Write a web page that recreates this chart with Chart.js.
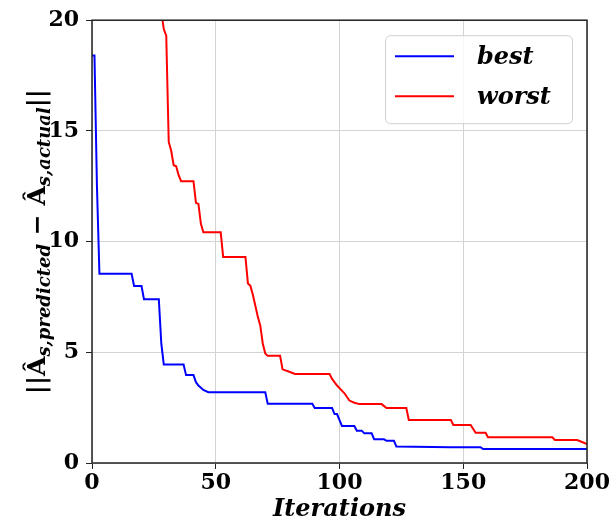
<!DOCTYPE html>
<html>
<head>
<meta charset="utf-8">
<script src="https://cdn.jsdelivr.net/npm/chart.js@4"></script>
<style>
  html, body { margin: 0; padding: 0; background: #fff; }
  #wrap { width: 611px; height: 527px; }
</style>
</head>
<body>
<div id="wrap"><canvas id="errChart" width="611" height="527"></canvas></div>
<script>
// breakpoints (iteration, error)
const bestIter = [0, 1, 2, 3, 16, 17, 20, 21, 27, 28, 29, 37, 38, 41, 42, 43, 45, 47, 70, 71, 89, 90, 97, 98, 99, 101, 106, 107, 109, 110, 113, 114, 118, 119, 122, 123, 145, 157, 158, 200];
const bestErr = [18.4, 18.4, 12.5, 8.55, 8.55, 8.0, 8.0, 7.4, 7.4, 5.4, 4.45, 4.45, 3.97, 3.97, 3.65, 3.5, 3.3, 3.2, 3.2, 2.68, 2.68, 2.48, 2.48, 2.21, 2.21, 1.67, 1.67, 1.46, 1.46, 1.34, 1.34, 1.07, 1.07, 1.0, 1.0, 0.74, 0.71, 0.71, 0.63, 0.63];

const worstIter = [0, 26, 27, 28, 29, 30, 31, 32, 33, 34, 35, 36, 41, 42, 43, 44, 45, 52, 53, 62, 63, 64, 65, 66, 67, 68, 69, 70, 71, 76, 77, 80, 82, 96, 97, 99, 100, 102, 104, 106, 108, 117, 119, 127, 128, 145, 146, 153, 155, 159, 160, 186, 187, 196, 198, 200];
const worstErr = [40, 30, 25, 20.4, 19.6, 19.3, 14.5, 14.1, 13.45, 13.4, 13.0, 12.73, 12.73, 11.75, 11.7, 10.8, 10.42, 10.42, 9.31, 9.31, 8.11, 8.0, 7.6, 7.1, 6.6, 6.2, 5.4, 4.95, 4.84, 4.84, 4.23, 4.11, 4.02, 4.02, 3.8, 3.5, 3.38, 3.15, 2.82, 2.72, 2.66, 2.66, 2.48, 2.48, 1.94, 1.94, 1.72, 1.72, 1.37, 1.37, 1.16, 1.16, 1.04, 1.04, 0.95, 0.86];

const xTicks = [0, 50, 100, 150, 200];
const yTicks = [0, 5, 10, 15, 20];

const toPoints = (xs, ys) => xs.map((x, i) => ({ x: x, y: ys[i] }));

const serif = "'DejaVu Serif', serif";

// black frame round the plot, like matplotlib spines
const spines = {
  id: "spines",
  afterDraw(chart) {
    const { ctx, chartArea: a } = chart;
    ctx.save();
    ctx.strokeStyle = "#222";
    ctx.lineWidth = 1.5;
    ctx.strokeRect(a.left, a.top, a.right - a.left, a.bottom - a.top);
    ctx.restore();
  },
};

// legend box inside the top right corner
const boxLegend = {
  id: "boxLegend",
  afterDraw(chart) {
    const { ctx, chartArea: a } = chart;
    const right = a.right - 15, top = a.top + 15;
    const w = 187, h = 88;
    const left = right - w;
    ctx.save();
    ctx.fillStyle = "rgba(255,255,255,0.8)";
    ctx.strokeStyle = "#d0d0d0";
    ctx.lineWidth = 1;
    ctx.beginPath();
    ctx.roundRect(left + 0.5, top + 0.5, w, h, 5);
    ctx.fill();
    ctx.stroke();
    ctx.font = "italic bold 24px " + serif;
    ctx.textBaseline = "middle";
    chart.data.datasets.forEach((ds, i) => {
      const y = top + 21 + i * 40;
      ctx.strokeStyle = ds.borderColor;
      ctx.lineWidth = 2;
      ctx.beginPath();
      ctx.moveTo(left + 10, y);
      ctx.lineTo(left + 69, y);
      ctx.stroke();
      ctx.fillStyle = "#000";
      ctx.fillText(ds.label, left + 92, y + 2);
    });
    ctx.restore();
  },
};

// y axis title with hats and subscripts
const yTitle = {
  id: "yTitle",
  afterDraw(chart) {
    const { ctx, chartArea: a } = chart;
    const main = "bold 25px " + serif;
    const sub = "italic bold 18px " + serif;
    const parts = [
      ["||", main, 0],
      ["Â", main, 0],
      ["s,predicted", sub, 5],
      [" − ", main, 0],
      ["Â", main, 0],
      ["s,actual", sub, 5],
      ["||", main, 0],
    ];
    ctx.save();
    let total = 0;
    parts.forEach((p) => {
      ctx.font = p[1];
      total += ctx.measureText(p[0]).width;
    });
    ctx.translate(0, (a.top + a.bottom) / 2);
    ctx.rotate(-Math.PI / 2);
    ctx.fillStyle = "#000";
    ctx.textBaseline = "alphabetic";
    let x = -total / 2;
    parts.forEach((p) => {
      ctx.font = p[1];
      ctx.fillText(p[0], x, 45 + p[2]);
      x += ctx.measureText(p[0]).width;
    });
    ctx.restore();
  },
};

window.onload = () => {
  new Chart(document.getElementById("errChart").getContext("2d"), {
    type: "line",
    data: {
      datasets: [
        {
          label: "best",
          data: toPoints(bestIter, bestErr),
          borderColor: "#0000ff",
          borderWidth: 2,
          pointRadius: 0,
          fill: false,
          tension: 0,
        },
        {
          label: "worst",
          data: toPoints(worstIter, worstErr),
          borderColor: "#ff0000",
          borderWidth: 2,
          pointRadius: 0,
          fill: false,
          tension: 0,
        },
      ],
    },
    options: {
      responsive: false,
      animation: false,
      layout: { padding: { left: 0, right: 24, top: 20, bottom: 0 } },
      plugins: { legend: { display: false }, tooltip: { enabled: false } },
      scales: {
        x: {
          type: "linear",
          min: 0,
          max: 200,
          afterBuildTicks: (s) => { s.ticks = xTicks.map((v) => ({ value: v })); },
          afterFit: (s) => { s.height = 64; },
          grid: { color: "#d3d3d3", lineWidth: 1, tickColor: "#222", tickLength: 6 },
          border: { display: false },
          ticks: { color: "#000", padding: 1, maxRotation: 0, font: { family: serif, size: 22, weight: "bold" } },
          title: {
            display: true,
            text: "Iterations",
            color: "#000",
            padding: { top: 0, bottom: 3 },
            font: { family: serif, size: 24, weight: "bold", style: "italic" },
          },
        },
        y: {
          min: 0,
          max: 20,
          afterBuildTicks: (s) => { s.ticks = yTicks.map((v) => ({ value: v })); },
          afterFit: (s) => { s.width = 92; },
          grid: { color: "#d3d3d3", lineWidth: 1, tickColor: "#222", tickLength: 6 },
          border: { display: false },
          ticks: { color: "#000", padding: 7, font: { family: serif, size: 22, weight: "bold" } },
        },
      },
    },
    plugins: [spines, boxLegend, yTitle],
  });
};
</script>
</body>
</html>
